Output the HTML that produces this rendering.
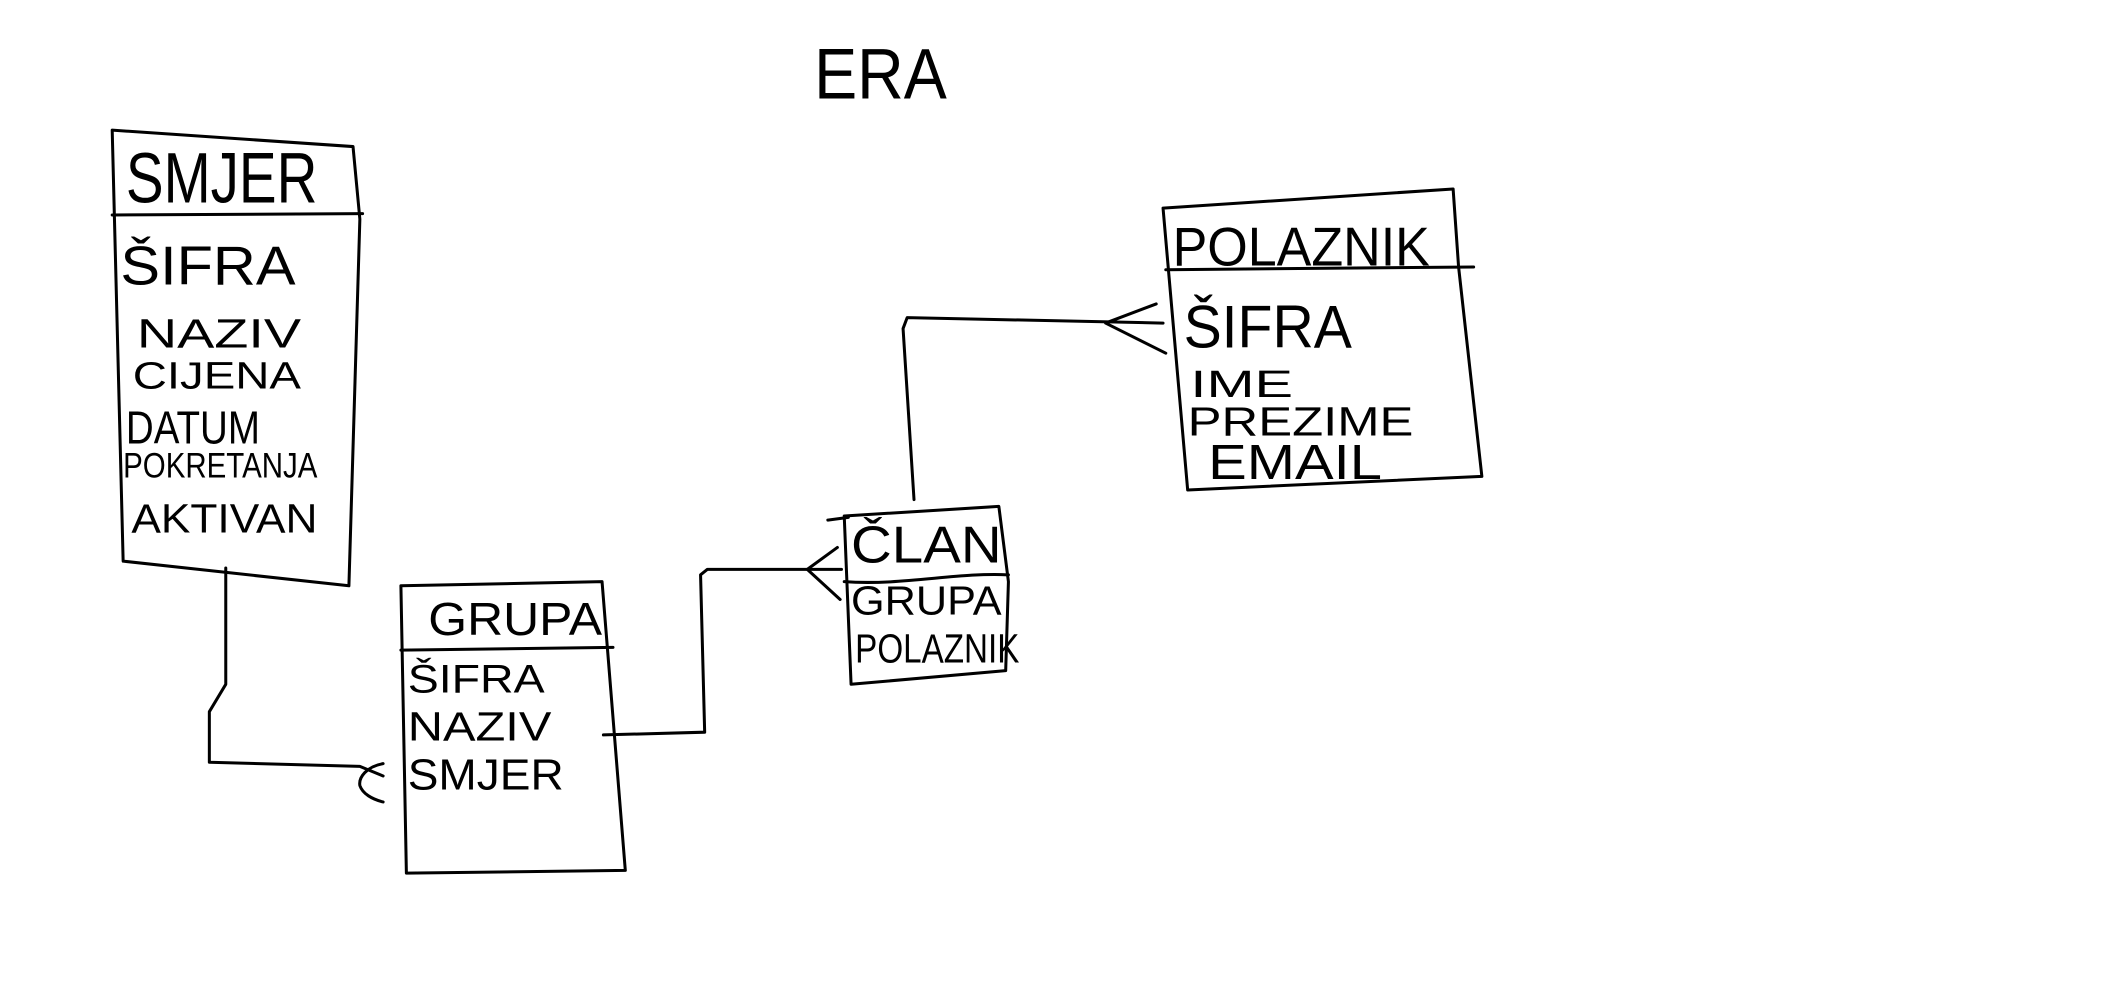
<!DOCTYPE html>
<html><head><meta charset="utf-8"><style>
html,body{margin:0;padding:0;background:#fff;}
svg{display:block;}
text{font-family:"Liberation Sans",sans-serif;fill:#000;}
</style></head><body>
<svg width="2114" height="1006" viewBox="0 0 1545 735" xmlns="http://www.w3.org/2000/svg">
<g fill="none" stroke="#000" stroke-width="2.2" stroke-linejoin="round" stroke-linecap="round">
<!-- SMJER -->
<path d="M82,95 L258,107 L263,160 L255,428 L90,410 Z"/>
<path d="M82,157 L265,156"/>
<!-- GRUPA -->
<path d="M293,428 L440,425 L457,636 L297,638 Z"/>
<path d="M293,475 L448,473"/>
<!-- CLAN -->
<path d="M617,377 L730,370 L737,425 L735,490 L622,500 Z"/>
<path d="M605,380 L620,378"/>
<path d="M617,425 C660,428 700,418 737,420"/>
<!-- POLAZNIK -->
<path d="M850,152 L1062,138 L1066,195 L1083,348 L868,358 Z"/>
<path d="M852,197 L1077,195"/>
<!-- connectors -->
<path d="M165,415 L165,500 L153,520 L153,557 L263,560 L280,567"/>
<path d="M280,558 C268,560 262,568 263,574 C265,580 272,584 280,586"/>
<path d="M441,537 L515,535 L512,420 L517,416 L615,416"/>
<path d="M612,400 L590,416 L614,438"/>
<path d="M668,365 L660,240 L663,232 L850,236"/>
<path d="M845,222 L808,236 L852,258"/>
</g>
<text x="595" y="72" font-size="52" textLength="97" lengthAdjust="spacingAndGlyphs">ERA</text>
<text x="92" y="148" font-size="52" textLength="140" lengthAdjust="spacingAndGlyphs">SMJER</text>
<text x="88" y="208" font-size="40" textLength="128" lengthAdjust="spacingAndGlyphs">ŠIFRA</text>
<text x="100" y="254" font-size="30" textLength="120" lengthAdjust="spacingAndGlyphs">NAZIV</text>
<text x="97" y="284" font-size="28" textLength="123" lengthAdjust="spacingAndGlyphs">CIJENA</text>
<text x="92" y="324" font-size="34" textLength="98" lengthAdjust="spacingAndGlyphs">DATUM</text>
<text x="90" y="349" font-size="26" textLength="142" lengthAdjust="spacingAndGlyphs">POKRETANJA</text>
<text x="96" y="389" font-size="30" textLength="136" lengthAdjust="spacingAndGlyphs">AKTIVAN</text>
<text x="313" y="464" font-size="34" textLength="127" lengthAdjust="spacingAndGlyphs">GRUPA</text>
<text x="298" y="506" font-size="29" textLength="100" lengthAdjust="spacingAndGlyphs">ŠIFRA</text>
<text x="298" y="541" font-size="30" textLength="105" lengthAdjust="spacingAndGlyphs">NAZIV</text>
<text x="298" y="577" font-size="32" textLength="114" lengthAdjust="spacingAndGlyphs">SMJER</text>
<text x="622" y="411" font-size="38" textLength="110" lengthAdjust="spacingAndGlyphs">ČLAN</text>
<text x="622" y="449" font-size="30" textLength="110" lengthAdjust="spacingAndGlyphs">GRUPA</text>
<text x="625" y="484" font-size="30" textLength="120" lengthAdjust="spacingAndGlyphs">POLAZNIK</text>
<text x="857" y="194" font-size="40" textLength="188" lengthAdjust="spacingAndGlyphs">POLAZNIK</text>
<text x="865" y="254" font-size="44" textLength="123" lengthAdjust="spacingAndGlyphs">ŠIFRA</text>
<text x="870" y="290" font-size="28" textLength="75" lengthAdjust="spacingAndGlyphs">IME</text>
<text x="868" y="318" font-size="30" textLength="165" lengthAdjust="spacingAndGlyphs">PREZIME</text>
<text x="883" y="350" font-size="36" textLength="127" lengthAdjust="spacingAndGlyphs">EMAIL</text>
</svg>
</body></html>
